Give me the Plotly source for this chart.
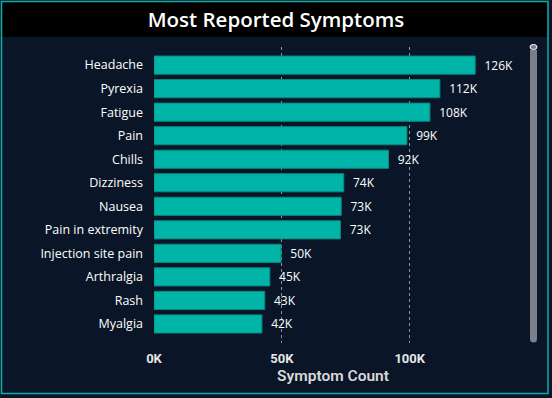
import plotly.graph_objects as go

symptoms = ["Headache", "Pyrexia", "Fatigue", "Pain", "Chills", "Dizziness", "Nausea",
            "Pain in extremity", "Injection site pain", "Arthralgia", "Rash", "Myalgia"]
counts = [125600, 111800, 107900, 98900, 91700, 74200, 73200, 72900, 49700, 45300, 43300, 42200]
labels = ["126K", "112K", "108K", "99K", "92K", "74K", "73K", "73K", "50K", "45K", "43K", "42K"]
tick_vals = [0, 50000, 100000]
tick_text = ["0K", "50K", "100K"]

W, H = 552, 398
ML, MR, MT, MB = 154, 40, 47, 55
PW, PH = W - ML - MR, H - MT - MB

def px(x):
    return (x - ML) / PW

def py(y):
    return (H - MB - y) / PH

BG = "#0a1628"
TEAL = "#00b5a8"

fig = go.Figure(go.Bar(
    x=counts, y=symptoms, orientation="h",
    marker=dict(color=TEAL, line=dict(color="#088a80", width=1)),
    text=labels, texttemplate="  %{text}", textposition="outside", cliponaxis=False,
    textfont=dict(color="#ffffff", size=12, family="Open Sans"),
    width=0.77,
))

shapes = [
    # title band
    dict(type="rect", xref="paper", yref="paper", x0=px(2), x1=px(547), y0=py(37), y1=py(2),
         fillcolor="#000000", line=dict(width=0), layer="below"),
    # border
    dict(type="rect", xref="paper", yref="paper", x0=px(1.5), x1=px(548), y0=py(393.5), y1=py(1.5),
         fillcolor="rgba(0,0,0,0)", line=dict(color="#14aaa2", width=1.5)),
    # scrollbar
    dict(type="rect", xref="paper", yref="paper", x0=px(530), x1=px(537), y0=py(339), y1=py(50),
         fillcolor="#7b7f8c", line=dict(width=0)),
    dict(type="circle", xref="paper", yref="paper", x0=px(530), x1=px(537), y0=py(342.5), y1=py(335.5),
         fillcolor="#7b7f8c", line=dict(width=0)),
    dict(type="circle", xref="paper", yref="paper", x0=px(530), x1=px(537), y0=py(49.5), y1=py(44.5),
         fillcolor="#7b7f8c", line=dict(color="#ffffff", width=1)),
]

fig.update_layout(
    width=W, height=H,
    margin=dict(l=ML, r=MR, t=MT, b=MB),
    paper_bgcolor=BG, plot_bgcolor=BG,
    showlegend=False,
    shapes=shapes,
    title=dict(text="Most Reported Symptoms", x=0.5, xref="container", y=1 - 19.5 / H, yref="container",
               xanchor="center", yanchor="middle",
               font=dict(family="Open Sans", size=20.5, color="#ffffff", weight=600)),
    xaxis=dict(range=[0, 140000], tickvals=tick_vals, ticktext=tick_text,
               showgrid=True, gridcolor="#8a93a0", griddash="dot", gridwidth=1,
               zeroline=False, showline=False, ticks="", ticklabelstandoff=6,
               tickfont=dict(family="Roboto", size=13, color="#e6e6e6", weight=700),
               title=dict(text="Symptom Count", standoff=5,
                          font=dict(family="Roboto", size=15.5, color="#d8d8d8", weight=600))),
    yaxis=dict(range=[11.81, -0.77], showgrid=False, zeroline=False, showline=False,
               ticks="", ticklabelstandoff=10,
               tickfont=dict(family="Open Sans", size=12.5, color="#ffffff")),
)

fig.write_html("out.html", config={"displayModeBar": False},
               post_script="document.body.style.margin='0';document.body.style.overflow='hidden';")
